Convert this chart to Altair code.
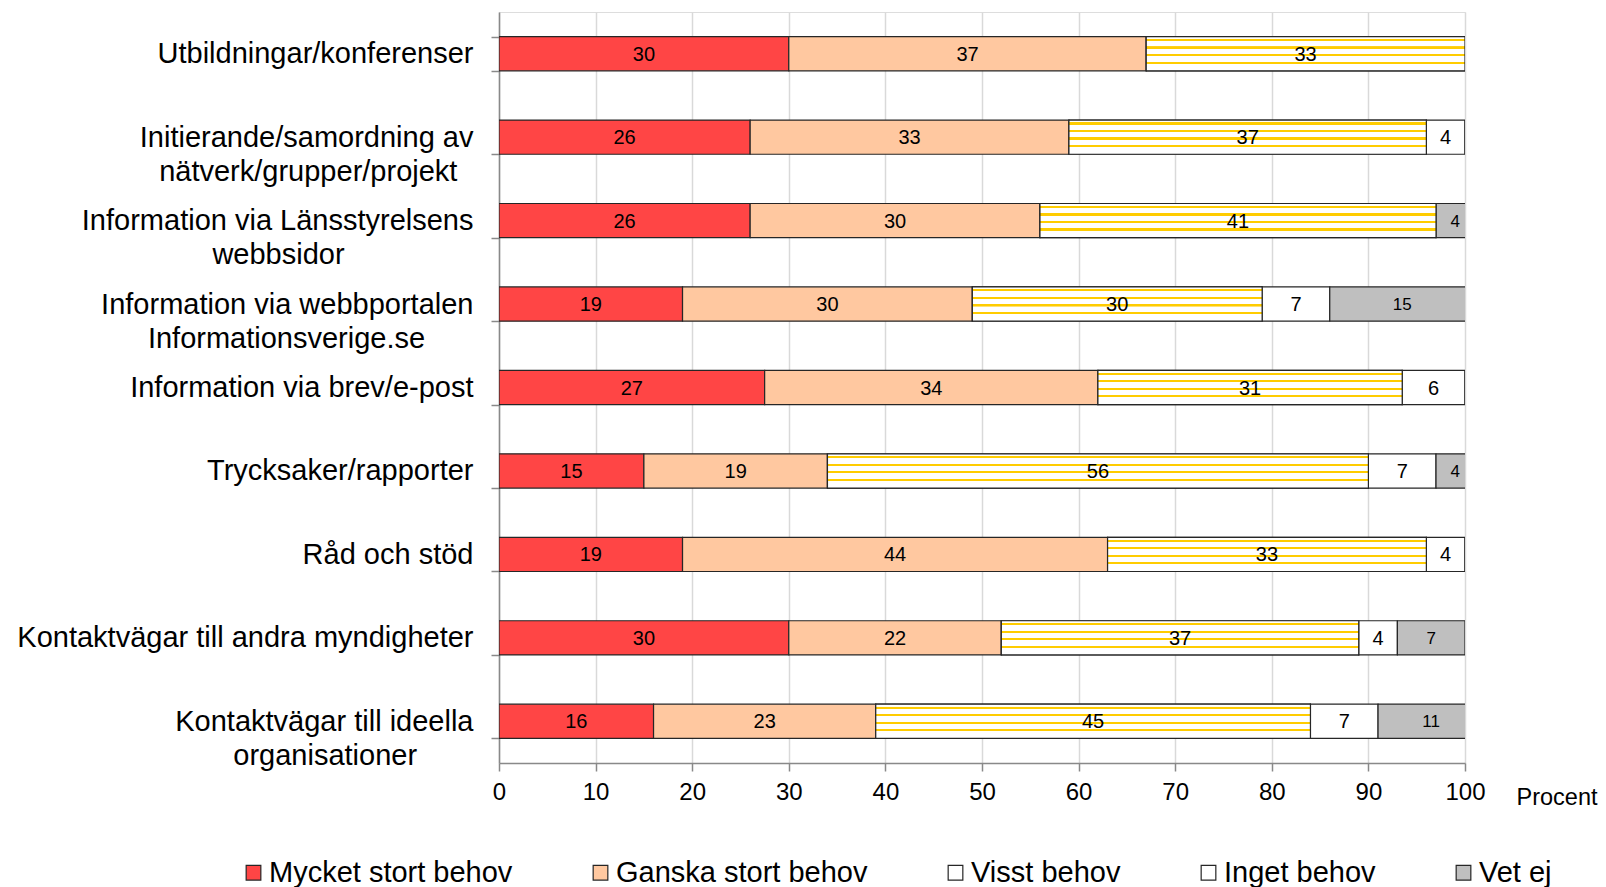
import altair as alt
import pandas as pd

# ---------------- data ----------------
NB = "\u00a0"   # no-break spaces centre the second label line
WJ = "\u2060"   # word joiner keeps the trailing no-break spaces from being trimmed
categories = [
    "Utbildningar/konferenser",
    "Initierande/samordning av\nnätverk/grupper/projekt" + NB * 2 + WJ,
    "Information via Länsstyrelsens\nwebbsidor" + NB * 16 + WJ,
    "Information via webbportalen\nInformationsverige.se" + NB * 6 + WJ,
    "Information via brev/e-post",
    "Trycksaker/rapporter",
    "Råd och stöd",
    "Kontaktvägar till andra myndigheter",
    "Kontaktvägar till ideella\norganisationer" + NB * 7 + WJ,
]
responses = ["Mycket stort behov", "Ganska stort behov", "Visst behov", "Inget behov", "Vet ej"]
mycket = [30, 26, 26, 19, 27.5, 15, 19, 30, 16]
ganska = [37, 33, 30, 30, 34.5, 19, 44, 22, 23]
visst = [33, 37, 41, 30, 31.5, 56, 33, 37, 45]
inget = [0, 4, 0, 7, 6.5, 7, 4, 4, 7]
vet_ej = [0, 0, 4, 15, 0, 4, 0, 7, 11]
x_ticks = [0, 10, 20, 30, 40, 50, 60, 70, 80, 90, 100]

colors = ["#FF4545", "#FFC8A0", "#FFFFFF", "#FFFFFF", "#BFBFBF"]
stripe = "#FFCC00"
FONT = "Liberation Sans"

series = [mycket, ganska, visst, inget, vet_ej]
rows = []
for ri, (resp, vals) in enumerate(zip(responses, series)):
    for ci, cat in enumerate(categories):
        rows.append({"cat": cat, "resp": resp, "order": ri, "value": vals[ci]})
df = pd.DataFrame(rows)

xscale = alt.Scale(domain=[0, 100], nice=False, zero=True)
yscale = alt.Scale(domain=categories, paddingInner=0.59, paddingOuter=0.295)

yaxis = alt.Axis(
    title=None,
    labelExpr="split(datum.label, '\\n')",
    labelFont=FONT, labelFontSize=29, labelLineHeight=34, labelColor="#000000",
    labelLimit=800, labelAlign="right", labelPadding=18,
    tickBand="extent", tickSize=8, tickColor="#898989", tickWidth=1.5,
    domainColor="#898989", domainWidth=1.5, grid=False,
)
xaxis = alt.Axis(
    values=x_ticks, title="Procent", titleFont=FONT, titleFontSize=23.5,
    titleFontWeight="normal", titleColor="#000000",
    titleX=1017, titleY=41, titleAlign="left", titleBaseline="alphabetic",
    labelFont=FONT, labelFontSize=24, labelColor="#000000", labelPadding=9,
    labelFlush=False, labelOverlap=False,
    tickSize=8, tickColor="#898989", tickWidth=1.5,
    domainColor="#898989", domainWidth=1.5,
    grid=True, gridColor="#D9D9D9", gridWidth=1.5,
)

base = (
    alt.Chart(df)
    .transform_stack(stack="value", groupby=["cat"], as_=["start", "end"],
                     sort=[alt.SortField("order", order="ascending")])
    .transform_calculate(mid="(datum.start + datum.end) / 2",
                         lab="floor(datum.value)")
    .encode(y=alt.Y("cat:N", scale=yscale, axis=yaxis))
)

bars = base.mark_bar(stroke="#262626", strokeWidth=1.2, clip=True).encode(
    x=alt.X("start:Q", scale=xscale, axis=xaxis),
    x2="end:Q",
    fill=alt.Fill(
        "resp:N",
        scale=alt.Scale(domain=responses, range=colors),
        legend=alt.Legend(
            title=None, orient="none", direction="horizontal", columns=5,
            legendX=-260, legendY=846, padding=0,
            symbolType="square", symbolSize=215, symbolStrokeColor="#262626",
            symbolStrokeWidth=1.2, symbolOpacity=1,
            labelFont=FONT, labelFontSize=29, labelColor="#000000", labelOffset=1,
            labelLimit=600, columnPadding=73,
        ),
    ),
)

stops = [{"offset": 0, "color": "#FFFFFF"}]
for c in [0.10, 0.32, 0.54, 0.76]:
    stops += [
        {"offset": round(c - 0.032, 3), "color": "#FFFFFF"},
        {"offset": round(c - 0.031, 3), "color": stripe},
        {"offset": round(c + 0.031, 3), "color": stripe},
        {"offset": round(c + 0.032, 3), "color": "#FFFFFF"},
    ]
stops.append({"offset": 1, "color": "#FFFFFF"})

hatch = base.transform_filter(alt.datum.resp == "Visst behov").mark_bar(
    fill=alt.LinearGradient(gradient="linear", x1=0, y1=0, x2=0, y2=1,
                            stops=[alt.GradientStop(**s) for s in stops]),
    stroke="#262626", strokeWidth=1.2, clip=True,
).encode(
    x=alt.X("start:Q", scale=xscale, axis=xaxis),
    x2="end:Q",
)

labels = base.transform_filter(alt.datum.value > 0).mark_text(
    font=FONT, color="#000000", baseline="middle", align="center", dy=1,
).encode(
    x=alt.X("mid:Q", scale=xscale, axis=xaxis),
    text="lab:Q",
    size=alt.condition(alt.datum.resp == "Vet ej", alt.value(17), alt.value(20)),
)

chart = (
    alt.layer(bars, hatch, labels)
    .properties(
        width=966, height=751,
        autosize=alt.AutoSizeParams(type="none"),
        padding={"left": 491, "top": 4, "right": 133, "bottom": 124},
    )
    .configure_view(stroke=None)
    .configure(background="#FFFFFF")
)

chart.save("out.html", embed_options={"renderer": "svg", "actions": False})
